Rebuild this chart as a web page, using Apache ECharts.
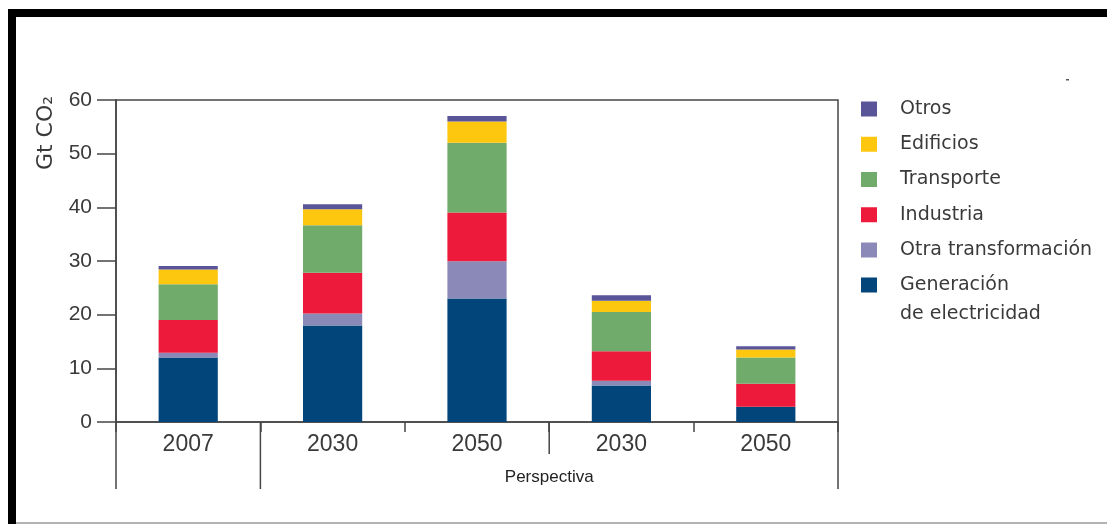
<!DOCTYPE html>
<html>
<head>
<meta charset="utf-8">
<script src="https://cdn.jsdelivr.net/npm/echarts@6/dist/echarts.min.js"></script>
<style>
html,body{margin:0;padding:0;background:#fff;}
#c{width:1107px;height:524px;}
</style>
</head>
<body>
<div id="c"></div>
<script>
// ---- data ----
const categories = ['2007', '2030', '2050', '2030', '2050'];
const generacion = [12.0, 18.0, 23.0, 6.8, 2.85];
const otraTransformacion = [0.9, 2.2, 6.95, 0.9, 0];
const industria = [6.1, 7.6, 9.1, 5.5, 4.3];
const transporte = [6.65, 8.85, 13.0, 7.3, 4.85];
const edificios = [2.75, 3.0, 3.95, 2.1, 1.5];
const otros = [0.65, 0.93, 1.0, 1.0, 0.6];
const yTicks = [0, 10, 20, 30, 40, 50, 60];
const groupLabel = 'Perspectiva';
const yTitle = 'Gt CO\u2082';

const chart = echarts.init(document.getElementById('c'), null, {renderer: 'canvas'});

const axisColor = '#454545';
const textColor = '#3a3a3a';

function bar(name, data, color) {
  return {
    name: name, type: 'bar', stack: 'total', data: data, barWidth: '41%',
    itemStyle: {color: color}, emphasis: {disabled: true}
  };
}

const option = {
  animation: false,
  grid: {
    left: 116, right: 269, top: 100, bottom: 102,
    show: true, borderColor: axisColor, borderWidth: 1.5, backgroundColor: 'transparent'
  },
  legend: [
    {
      data: ['Otros', 'Edificios', 'Transporte', 'Industria', 'Otra transformación'],
      orient: 'vertical', left: 861, top: 94.5, padding: 0,
      itemGap: 6.25, itemWidth: 16, itemHeight: 15, icon: 'rect',
      selectedMode: false,
      textStyle: {fontFamily: 'DejaVu Sans', fontSize: 19, lineHeight: 29, color: textColor, padding: [0, 0, 0, 18]}
    },
    {
      data: ['Generación de electricidad'],
      orient: 'vertical', left: 861, top: 241.5, padding: 0,
      itemWidth: 16, itemHeight: 15, icon: 'rect',
      selectedMode: false,
      formatter: function () { return ' \nGeneración\nde electricidad'; },
      textStyle: {fontFamily: 'DejaVu Sans', fontSize: 19, lineHeight: 29, color: textColor, padding: [0, 0, 0, 18]}
    }
  ],
  xAxis: {
    type: 'category', data: categories, boundaryGap: true,
    axisLine: {show: true, lineStyle: {color: axisColor, width: 1.5}},
    axisTick: {show: true, length: 10, inside: false, lineStyle: {color: axisColor, width: 1.5}},
    axisLabel: {fontFamily: 'Liberation Sans', fontSize: 23, color: textColor, margin: 11}
  },
  yAxis: {
    type: 'value', min: yTicks[0], max: yTicks[yTicks.length - 1], interval: 10,
    axisLine: {show: true, lineStyle: {color: axisColor, width: 1.5}},
    axisTick: {show: true, length: 19, inside: false, lineStyle: {color: axisColor, width: 1.5}},
    axisLabel: {fontFamily: 'Liberation Sans', fontSize: 21, color: textColor, margin: 24},
    splitLine: {show: false}
  },
  series: [
    bar('Generación de electricidad', generacion, '#02457A'),
    bar('Otra transformación', otraTransformacion, '#8B89B8'),
    bar('Industria', industria, '#ED1A3B'),
    bar('Transporte', transporte, '#70AB6C'),
    bar('Edificios', edificios, '#FEC70F'),
    bar('Otros', otros, '#5A5499')
  ]
};
chart.setOption(option);

// decorations computed from the chart's own scales
const c0 = chart.convertToPixel({xAxisIndex: 0}, 0);
const c1 = chart.convertToPixel({xAxisIndex: 0}, 1);
const bw = c1 - c0;
const y0 = chart.convertToPixel({yAxisIndex: 0}, 0);
function boundary(i) { return c0 + (i - 0.5) * bw; }
const lineStyle = {stroke: axisColor, lineWidth: 1.5};
function vline(x, len) {
  return {type: 'line', silent: true, shape: {x1: x, y1: y0, x2: x, y2: y0 + len}, style: lineStyle};
}

chart.setOption({
  graphic: [
    // outer frame
    {type: 'rect', silent: true, shape: {x: 8, y: 9, width: 1099, height: 8}, style: {fill: '#000'}},
    {type: 'rect', silent: true, shape: {x: 8, y: 9, width: 8, height: 515}, style: {fill: '#000'}},
    {type: 'line', silent: true, shape: {x1: 16, y1: 523, x2: 1107, y2: 523}, style: {stroke: '#9a9a9a', lineWidth: 1.5}},
    // bracket lines below the axis
    vline(boundary(0), 67),
    vline(boundary(1), 67),
    vline(boundary(3), 32),
    vline(boundary(5), 67),
    // group label
    {type: 'text', silent: true, x: (boundary(1) + boundary(5)) / 2, y: y0 + 55,
      style: {text: groupLabel, fontFamily: 'Liberation Sans', fontSize: 17, fill: '#222',
        align: 'center', verticalAlign: 'middle'}},
    // y axis title
    {type: 'text', silent: true, x: 46, y: 133, rotation: Math.PI / 2,
      style: {text: yTitle, fontFamily: 'DejaVu Sans', fontSize: 22, fill: textColor,
        align: 'center', verticalAlign: 'middle'}},
    // small stray dash
    {type: 'rect', silent: true, shape: {x: 1066, y: 79, width: 3, height: 1.5}, style: {fill: '#555'}}
  ]
});
</script>
</body>
</html>
